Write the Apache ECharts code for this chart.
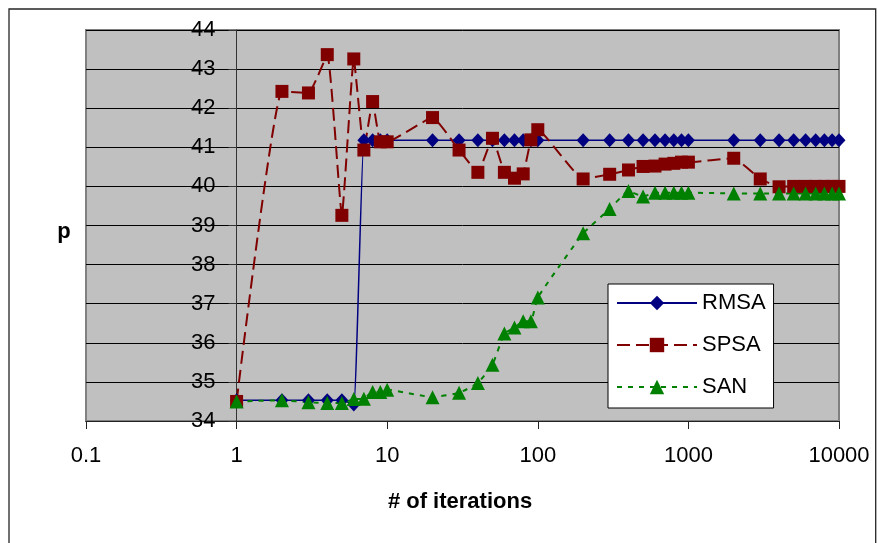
<!DOCTYPE html>
<html>
<head>
<meta charset="utf-8">
<title>p vs # of iterations</title>
<script src="https://cdn.jsdelivr.net/npm/echarts@6/dist/echarts.min.js"></script>
<style>
html, body { margin: 0; padding: 0; background: #fff; }
#chart { width: 877px; height: 543px; }
</style>
</head>
<body>
<div id="chart"></div>
<script>
// x values (# of iterations), shared by all three series
const iterations = [1, 2, 3, 4, 5, 6, 7, 8, 9, 10,
    20, 30, 40, 50, 60, 70, 80, 90, 100,
    200, 300, 400, 500, 600, 700, 800, 900, 1000,
    2000, 3000, 4000, 5000, 6000, 7000, 8000, 9000, 10000]

const rmsa = [34.53, 34.53, 34.53, 34.53, 34.53, 34.42, 41.18, 41.18, 41.18, 41.18,
    41.18, 41.18, 41.18, 41.18, 41.18, 41.18, 41.18, 41.18, 41.18,
    41.18, 41.18, 41.18, 41.18, 41.18, 41.18, 41.18, 41.18, 41.18,
    41.18, 41.18, 41.18, 41.18, 41.18, 41.18, 41.18, 41.18, 41.18]

const spsa = [34.5, 42.43, 42.39, 43.37, 39.26, 43.26, 40.93, 42.17, 41.14, 41.14,
    41.76, 40.93, 40.36, 41.23, 40.36, 40.21, 40.32, 41.19, 41.45,
    40.19, 40.31, 40.42, 40.51, 40.52, 40.57, 40.59, 40.62, 40.62,
    40.72, 40.19, 39.99, 40.0, 40.0, 40.0, 40.0, 40.0, 40.0]

const san = [34.5, 34.53, 34.48, 34.46, 34.46, 34.56, 34.57, 34.74, 34.74, 34.8,
    34.61, 34.72, 34.97, 35.44, 36.24, 36.39, 36.55, 36.55, 37.16,
    38.8, 39.42, 39.88, 39.74, 39.84, 39.84, 39.84, 39.84, 39.84,
    39.82, 39.82, 39.82, 39.82, 39.82, 39.82, 39.82, 39.82, 39.82]

const seriesNames = ['RMSA', 'SPSA', 'SAN']
const xTitle = '# of iterations'
const yTitle = 'p'

const FONT = '"Liberation Sans", Arial, sans-serif'

const pairs = (ys) => iterations.map((x, i) => [x, ys[i]])

const chart = echarts.init(document.getElementById('chart'), null, { renderer: 'canvas' })

const option = {
    backgroundColor: '#fff',
    animation: false,
    grid: {
        left: 86, right: 38, top: 30, bottom: 122,
        show: true,
        backgroundColor: '#c0c0c0',
        borderColor: '#808080',
        borderWidth: 2,
    },
    xAxis: {
        type: 'log',
        logBase: 10,
        min: 0.1,
        max: 10000,
        axisLine: { lineStyle: { color: '#222', width: 1 } },
        axisTick: { show: true, length: 8, lineStyle: { color: '#222' } },
        splitLine: { show: false },
        minorTick: { show: false },
        axisLabel: {
            fontSize: 22,
            fontFamily: FONT,
            color: '#000',
            margin: 24,
            // no thousands separator, like the original
            formatter: (v) => String(Number(v.toPrecision(6))),
        },
    },
    yAxis: {
        type: 'value',
        min: 34,
        max: 44,
        interval: 1,
        // y axis crosses at x = 1 instead of the left edge
        offset: -150.5,
        axisLine: { show: true, lineStyle: { color: '#333', width: 1 } },
        axisTick: { show: true, length: 8, lineStyle: { color: '#333' } },
        splitLine: { show: true, lineStyle: { color: '#000', width: 1 } },
        axisLabel: {
            fontSize: 22,
            fontFamily: FONT,
            color: '#000',
            margin: 21,
            padding: [0, 0, 5, 0],
        },
    },
    legend: {
        orient: 'vertical',
        left: 608,
        top: 284,
        backgroundColor: '#fff',
        borderColor: '#000',
        borderWidth: 1,
        borderRadius: 0,
        padding: [8, 8, 10, 8],
        itemWidth: 80,
        itemHeight: 18,
        itemGap: 20,
        textStyle: { fontSize: 22, fontFamily: FONT, color: '#000' },
        data: seriesNames,
    },
    graphic: [
        {
            // outer chart border
            type: 'rect',
            shape: { x: 9, y: 9, width: 866.7, height: 545 },
            style: { fill: 'none', stroke: '#262626', lineWidth: 1.3 },
            z: 100,
        },
        {
            type: 'text',
            x: 64, y: 232,
            style: { text: yTitle, font: 'bold 22px ' + FONT, fill: '#000', align: 'center', verticalAlign: 'middle' },
        },
        {
            type: 'text',
            x: 460, y: 502,
            style: { text: xTitle, font: 'bold 22px ' + FONT, fill: '#000', align: 'center', verticalAlign: 'middle' },
        },
    ],
    series: [
        {
            name: seriesNames[0],
            type: 'line',
            data: pairs(rmsa),
            smooth: 0.12,
            symbol: 'diamond',
            symbolSize: [13, 14],
            showSymbol: true,
            color: '#000080',
            lineStyle: { color: '#000080', width: 1.5, type: 'solid' },
            itemStyle: { color: '#000080', borderWidth: 0 },
        },
        {
            name: seriesNames[1],
            type: 'line',
            data: pairs(spsa),
            smooth: 0.12,
            symbol: 'rect',
            symbolSize: 13,
            showSymbol: true,
            color: '#800000',
            lineStyle: { color: '#800000', width: 2, type: [13, 6] },
            itemStyle: { color: '#800000', borderWidth: 0 },
        },
        {
            name: seriesNames[2],
            type: 'line',
            data: pairs(san),
            smooth: 0.12,
            symbol: 'triangle',
            symbolSize: [14, 14],
            showSymbol: true,
            color: '#008000',
            lineStyle: { color: '#008000', width: 2, type: [5, 6] },
            itemStyle: { color: '#008000', borderWidth: 0 },
        },
    ],
}

chart.setOption(option)
</script>
</body>
</html>
